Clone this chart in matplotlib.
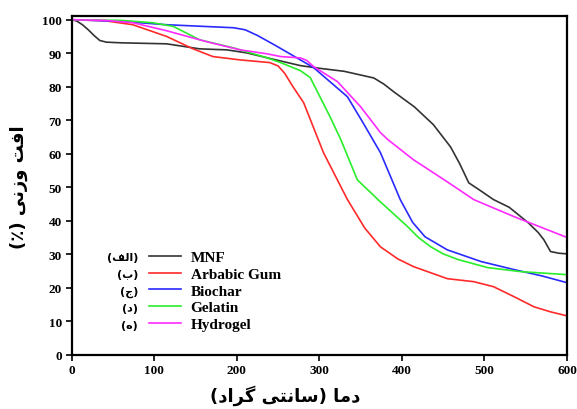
import matplotlib
matplotlib.use("Agg")
import matplotlib.pyplot as plt

# داده ها (TGA)
t_mnf = [0, 6, 13, 20, 27, 34, 42, 60, 115, 155, 188, 212, 244, 277, 300, 330, 366, 378, 390,
         415, 438, 459, 470, 481, 495, 511, 530, 553, 565, 572, 580, 590, 600]
w_mnf = [100, 99.6, 98.5, 97, 95.3, 93.8, 93.3, 93.1, 92.8, 91.3, 91, 90.1, 88.2, 86.3, 85.5,
         84.6, 82.6, 80.8, 78.5, 74, 68.7, 62, 57, 51.3, 49, 46.3, 44, 39.4, 36.5, 34.3, 30.8,
         30.3, 30.1]

t_gum = [0, 40, 74, 115, 147, 171, 204, 240, 250, 258, 268, 281, 305, 334, 355, 374, 395, 414,
         455, 487, 511, 536, 560, 580, 600]
w_gum = [100, 99.7, 98.5, 95, 91.3, 89, 88, 87.2, 86.2, 84, 80, 75.2, 60.3, 46.3, 37.8, 32.2,
         28.6, 26.3, 22.7, 21.8, 20.3, 17.3, 14.3, 12.8, 11.6]

t_bio = [0, 60, 115, 196, 210, 225, 249, 277, 293, 334, 353, 374, 398, 413, 428, 455, 496, 536,
         570, 600]
w_bio = [100, 99.5, 98.5, 97.6, 97, 95.3, 92, 88, 85.7, 77, 69.2, 60.3, 46.3, 39.5, 35.2, 31.3,
         27.8, 25.4, 23.5, 21.5]

t_gel = [0, 60, 98, 123, 155, 196, 237, 253, 277, 289, 313, 326, 346, 371, 407, 420, 435, 450,
         468, 504, 544, 600]
w_gel = [100, 99.8, 99.1, 98, 94, 91.6, 88.6, 87.2, 84.8, 82.7, 71, 64.2, 52.2, 46.3, 38.2, 35,
         32.2, 30.1, 28.4, 26, 24.8, 23.9]

t_hyd = [0, 40, 74, 115, 164, 204, 237, 253, 277, 285, 293, 322, 350, 374, 383, 414, 455, 487,
         536, 600]
w_hyd = [100, 99.8, 99.1, 96.7, 93.4, 91, 89.8, 89, 88.6, 87.8, 86, 81.5, 74, 66.3, 64.2, 58.2,
         51.6, 46.3, 41.2, 35]

names = ['MNF', 'Arbabic Gum', 'Biochar', 'Gelatin', 'Hydrogel']
tags = ['(الف)', '(ب)', '(ج)', '(د)', '(ه)']
colors = ['#333333', '#ff2a2a', '#2a2aff', '#2aee2a', '#ff2aff']

# شکل دهی ساده حروف فارسی (matplotlib خودش انجام نمی دهد)
FORMS = {
    'ا': ('\uFE8D', '\uFE8E', None, None),
    'ب': ('\uFE8F', '\uFE90', '\uFE91', '\uFE92'),
    'ت': ('\uFE95', '\uFE96', '\uFE97', '\uFE98'),
    'ج': ('\uFE9D', '\uFE9E', '\uFE9F', '\uFEA0'),
    'د': ('\uFEA9', '\uFEAA', None, None),
    'ر': ('\uFEAD', '\uFEAE', None, None),
    'ز': ('\uFEAF', '\uFEB0', None, None),
    'س': ('\uFEB1', '\uFEB2', '\uFEB3', '\uFEB4'),
    'ف': ('\uFED1', '\uFED2', '\uFED3', '\uFED4'),
    'ل': ('\uFEDD', '\uFEDE', '\uFEDF', '\uFEE0'),
    'م': ('\uFEE1', '\uFEE2', '\uFEE3', '\uFEE4'),
    'ن': ('\uFEE5', '\uFEE6', '\uFEE7', '\uFEE8'),
    'ه': ('\uFEE9', '\uFEEA', '\uFEEB', '\uFEEC'),
    'و': ('\uFEED', '\uFEEE', None, None),
    'ی': ('\uFBFC', '\uFBFD', '\uFBFE', '\uFBFF'),
    'گ': ('\uFB92', '\uFB93', '\uFB94', '\uFB95'),
}


def fa(s):
    out = []
    for i, c in enumerate(s):
        if c not in FORMS:
            out.append(c)
            continue
        prev = s[i - 1] if i > 0 else ''
        nxt = s[i + 1] if i + 1 < len(s) else ''
        j_prev = prev in FORMS and FORMS[prev][2] is not None
        j_next = FORMS[c][2] is not None and nxt in FORMS
        f = FORMS[c]
        if j_prev and j_next:
            out.append(f[3])
        elif j_prev:
            out.append(f[1])
        elif j_next:
            out.append(f[2])
        else:
            out.append(f[0])
    vis = ''.join(reversed(out))
    return vis.translate(str.maketrans('()', ')('))


fa_font = dict(family='DejaVu Sans', fontweight='bold')

fig = plt.figure(figsize=(5.77, 4.10), dpi=100)
ax = fig.add_axes([0.1243, 0.1324, 0.8584, 0.8269])

series = [(t_mnf, w_mnf), (t_gum, w_gum), (t_bio, w_bio), (t_gel, w_gel), (t_hyd, w_hyd)]
for (t, w), n, c in zip(series, names, colors):
    ax.plot(t, w, color=c, lw=1.2, label=n)

ax.set_xlim(0, 600)
ax.set_ylim(0, 101.2)
ax.set_xticks(range(0, 601, 100))
ax.set_yticks(range(0, 101, 10))
for s in ['left', 'bottom', 'right', 'top']:
    ax.spines[s].set_linewidth(1.6)
ax.tick_params(direction='out', length=4, width=1.2, labelsize=9.5, pad=3)
for lab in ax.get_xticklabels() + ax.get_yticklabels():
    lab.set_fontfamily('Liberation Serif')
    lab.set_fontweight('bold')

leg = ax.legend(loc='upper left', bbox_to_anchor=(0.14, 0.33), frameon=False,
                prop=dict(family='Liberation Serif', weight='bold', size=11),
                handlelength=2.1, handletextpad=0.65, labelspacing=0.2, borderpad=0)

row_y = [0.288, 0.238, 0.188, 0.138, 0.0876]
for tag, y in zip(tags, row_y):
    ax.text(0.134, y, fa(tag), transform=ax.transAxes, ha='right', va='center',
            fontsize=8, **fa_font)

fig.text(19 / 577, 1 - 187 / 410, fa('افت وزنی (٪)'), rotation=90, ha='center', va='center',
         fontsize=13, **fa_font)
fig.text(285 / 577, 1 - 396 / 410, fa('دما (سانتی گراد)'), ha='center', va='center',
         fontsize=13, **fa_font)

fig.savefig('out.png', dpi=100)
